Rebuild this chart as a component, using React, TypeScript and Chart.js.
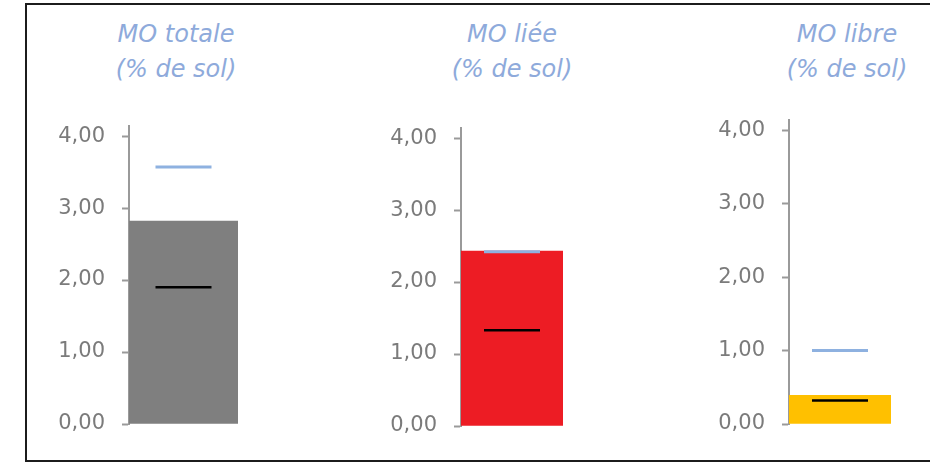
import React, { useEffect, useRef } from "react";
import { Chart, registerables } from "chart.js";

Chart.register(...registerables);

// Panel contents
const panelTitles = ["MO totale", "MO liée", "MO libre"];
const panelUnit = "(% de sol)";
const measured = [2.82, 2.43, 0.39];
const upperRef = [3.57, 2.42, 1.0];
const lowerRef = [1.9, 1.33, 0.32];
const barColors = ["#7f7f7f", "#ed1c24", "#ffc000"];
const tickValues = [0, 1, 2, 3, 4];

const Y_MAX = 4.14;
const AXIS_W = 89;
const PAD = 20;

// Plot-area placement of each panel (left, top, width, height)
const areas = [
  { left: 129, top: 126, width: 109, height: 298 },
  { left: 461, top: 128, width: 102, height: 298 },
  { left: 789, top: 120, width: 102, height: 304 },
];
const titleCenters = [176, 512, 847];

function Panel({ idx }: { idx: number }) {
  const ref = useRef<HTMLCanvasElement | null>(null);
  const a = areas[idx];
  useEffect(() => {
    if (!ref.current) return;
    const chart = new Chart(ref.current, {
      type: "bar",
      data: {
        labels: [panelTitles[idx]],
        datasets: [
          {
            type: "line",
            data: [upperRef[idx]],
            showLine: false,
            pointStyle: "line",
            pointRadius: 28,
            pointBorderWidth: 3,
            borderColor: "#8eb1e0",
            backgroundColor: "#8eb1e0",
            order: 0,
          },
          {
            type: "line",
            data: [lowerRef[idx]],
            showLine: false,
            pointStyle: "line",
            pointRadius: 28,
            pointBorderWidth: 2.5,
            borderColor: "#000000",
            backgroundColor: "#000000",
            order: 1,
          },
          {
            type: "bar",
            data: [measured[idx]],
            backgroundColor: barColors[idx],
            barPercentage: 1,
            categoryPercentage: 1,
            order: 2,
          },
        ] as any,
      },
      options: {
        animation: false,
        responsive: false,
        maintainAspectRatio: false,
        layout: { autoPadding: false, padding: { top: PAD, bottom: PAD, left: 0, right: 0 } },
        plugins: { legend: { display: false }, tooltip: { enabled: false }, title: { display: false } },
        scales: {
          x: { display: false },
          y: {
            min: 0,
            max: Y_MAX,
            afterFit: (s: any) => {
              s.width = AXIS_W;
              s.paddingTop = 0;
              s.paddingBottom = 0;
            },
            afterBuildTicks: (s: any) => {
              s.ticks = tickValues.map((v) => ({ value: v }));
            },
            ticks: {
              includeBounds: false,
              padding: 17,
              color: "#7b7b7b",
              font: { family: "DejaVu Sans", size: 21 },
              callback: (v: any) => Number(v).toFixed(2).replace(".", ","),
            },
            grid: {
              drawOnChartArea: false,
              drawTicks: true,
              tickLength: 7,
              tickWidth: 2,
              tickColor: "#9a9a9a",
            },
            border: { display: true, color: "#9a9a9a", width: 2 },
          },
        },
      },
    });
    return () => chart.destroy();
  }, [idx]);

  const w = AXIS_W + a.width;
  const h = a.height + PAD * 2;
  return (
    <>
      <div
        style={{
          position: "absolute",
          left: titleCenters[idx] - 120,
          top: 17,
          width: 240,
          textAlign: "center",
          fontFamily: "DejaVu Sans",
          fontStyle: "italic",
          fontSize: 24,
          lineHeight: "35px",
          color: "#8eaadb",
        }}
      >
        <div>{panelTitles[idx]}</div>
        <div>{panelUnit}</div>
      </div>
      <canvas
        ref={ref}
        width={w}
        height={h}
        style={{ position: "absolute", left: a.left - AXIS_W, top: a.top - PAD, width: w, height: h }}
      />
    </>
  );
}

export default function App() {
  return (
    <div
      style={{
        position: "absolute",
        left: 0,
        top: 0,
        width: 930,
        height: 462,
        overflow: "hidden",
        background: "#ffffff",
      }}
    >
      <div
        style={{
          position: "absolute",
          left: 25,
          top: 3,
          width: 960,
          height: 455,
          border: "2px solid #1c1c1c",
        }}
      />
      {panelTitles.map((_, i) => (
        <Panel key={i} idx={i} />
      ))}
    </div>
  );
}
